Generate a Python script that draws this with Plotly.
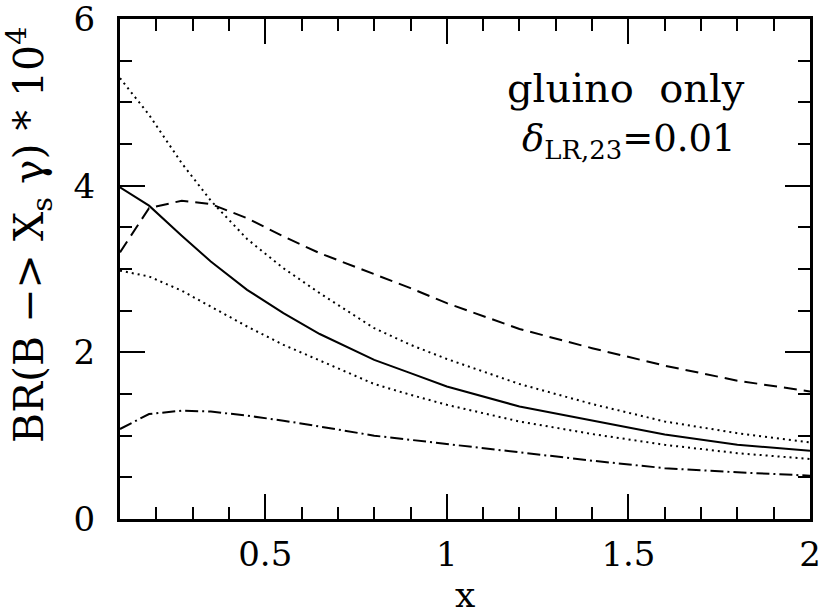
import plotly.graph_objects as go

x = [0.1, 0.18, 0.27, 0.35, 0.45, 0.55, 0.65, 0.8, 0.9, 1.0, 1.2, 1.4, 1.6, 1.8, 2.0]
solid = [3.98, 3.76, 3.40, 3.09, 2.75, 2.47, 2.22, 1.91, 1.75, 1.59, 1.35, 1.185, 1.015, 0.89, 0.82]
dashed = [3.20, 3.73, 3.82, 3.78, 3.61, 3.39, 3.19, 2.94, 2.77, 2.59, 2.28, 2.05, 1.84, 1.66, 1.53]
dotted_upper = [5.29, 4.85, 4.27, 3.82, 3.36, 3.01, 2.71, 2.29, 2.09, 1.92, 1.62, 1.38, 1.17, 1.03, 0.92]
dotted_lower = [2.98, 2.91, 2.74, 2.55, 2.31, 2.09, 1.90, 1.62, 1.49, 1.37, 1.17, 1.02, 0.89, 0.79, 0.72]
dashdot = [1.08, 1.26, 1.30, 1.29, 1.24, 1.18, 1.11, 1.00, 0.95, 0.90, 0.80, 0.70, 0.61, 0.56, 0.52]

x_ticks = [0.5, 1, 1.5, 2]
x_ticklabels = ["0.5", "1", "1.5", "2"]
y_ticks = [0, 2, 4, 6]
y_ticklabels = ["0", "2", "4", "6"]

FONT = "DejaVu Serif"

fig = go.Figure()
series = [
    (solid, "solid"),
    (dashed, "13px,7px"),
    (dotted_upper, "2px,4px"),
    (dotted_lower, "2px,4px"),
    (dashdot, "13px,4px,2px,4px"),
]
for ys, dash in series:
    fig.add_trace(go.Scatter(x=x, y=ys, mode="lines",
                             line=dict(color="black", width=2, dash=dash),
                             showlegend=False, hoverinfo="skip"))

axis_common = dict(showgrid=False, zeroline=False, showline=True, linecolor="black",
                   linewidth=3, mirror="allticks", ticks="inside", ticklen=25,
                   tickwidth=2, tickcolor="black", automargin=False,
                   ticklabeloverflow="allow",
                   tickfont=dict(family=FONT, size=34, color="black"))

fig.update_xaxes(range=[0.1, 2], tickvals=x_ticks, ticktext=x_ticklabels,
                 minor=dict(dtick=0.1, tick0=0, ticklen=12, tickwidth=2,
                            tickcolor="black", ticks="inside"),
                 ticklabelstandoff=3,
                 **axis_common)
fig.update_yaxes(range=[0, 6], tickvals=y_ticks, ticktext=y_ticklabels,
                 minor=dict(dtick=0.5, tick0=0, ticklen=12, tickwidth=2,
                            tickcolor="black", ticks="inside"),
                 ticklabelstandoff=15,
                 **axis_common)

fig.add_annotation(xref="paper", yref="paper", x=-0.132, y=0.568,
                   text="BR(B −> X<sub>s</sub> γ) * 10<sup>4</sup>", textangle=-90,
                   showarrow=False, xanchor="center", yanchor="middle",
                   font=dict(family=FONT, size=41, color="black"))
fig.add_annotation(xref="paper", yref="paper", x=0.5, y=-0.15,
                   text="x", showarrow=False, xanchor="center", yanchor="middle",
                   font=dict(family=FONT, size=36, color="black"))
fig.add_annotation(xref="paper", yref="paper", x=0.909, y=0.862,
                   text="gluino  only", showarrow=False, xanchor="right",
                   yanchor="middle", font=dict(family=FONT, size=40, color="black"))
fig.add_annotation(xref="paper", yref="paper", x=0.896, y=0.756,
                   text="<i>δ</i><sub>LR,23</sub>=0.01", showarrow=False, xanchor="right",
                   yanchor="middle", font=dict(family=FONT, size=37, color="black"))

# the page margin is removed below, so the figure fills the whole window
fig.update_layout(width=823, height=613, paper_bgcolor="white", plot_bgcolor="white",
                  margin=dict(l=120, r=13, t=19, b=93.5, pad=0))

fig.write_html("out.html", config={"displayModeBar": False},
               post_script="document.body.style.margin='0px';"
                           "document.documentElement.style.overflow='hidden';"
                           "document.body.style.overflow='hidden';")
